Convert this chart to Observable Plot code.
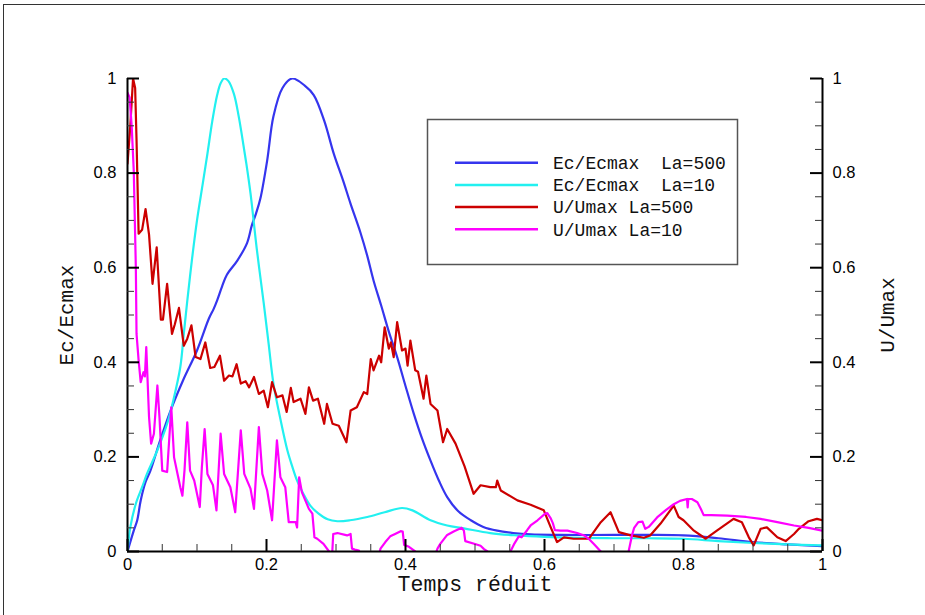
<!DOCTYPE html>
<html>
<head>
<meta charset="utf-8">
<script src="https://cdn.jsdelivr.net/npm/d3@7"></script>
<script src="https://cdn.jsdelivr.net/npm/@observablehq/plot@0.6"></script>
<style>
html, body { margin: 0; padding: 0; background: #fff; overflow: hidden; }
#wrap { position: relative; width: 925px; height: 615px; }
#border { position: absolute; left: 3px; top: 4px; width: 1000px; height: 1000px; border: 1px solid #333; }
#chart { position: absolute; left: 0; top: 0; }
#legend { position: absolute; left: 0; top: 0; pointer-events: none; }
</style>
</head>
<body>
<div id="wrap">
  <div id="border"></div>
  <div id="chart"></div>
  <svg id="legend" width="925" height="615"></svg>
</div>
<script>
// ---- data (x = Temps réduit, y = normalised value) ----
const ecLa500 = [[0,0],[0.009,0.044],[0.014,0.066],[0.019,0.108],[0.026,0.147],[0.033,0.171],[0.047,0.235],[0.062,0.298],[0.08,0.362],[0.1,0.425],[0.117,0.492],[0.124,0.513],[0.129,0.531],[0.136,0.56],[0.143,0.585],[0.158,0.615],[0.172,0.652],[0.179,0.69],[0.185,0.715],[0.191,0.745],[0.201,0.827],[0.21,0.92],[0.223,0.98],[0.237,1.0],[0.255,0.985],[0.268,0.965],[0.283,0.911],[0.297,0.84],[0.31,0.785],[0.321,0.735],[0.335,0.675],[0.345,0.625],[0.354,0.573],[0.365,0.52],[0.376,0.465],[0.388,0.411],[0.4,0.35],[0.412,0.291],[0.424,0.238],[0.436,0.192],[0.448,0.15],[0.46,0.115],[0.476,0.085],[0.494,0.066],[0.512,0.052],[0.532,0.044],[0.555,0.039],[0.58,0.036],[0.62,0.035],[0.7,0.035],[0.75,0.035],[0.8,0.034],[0.85,0.028],[0.9,0.02],[0.95,0.015],[1,0.011]];
const ecLa10 = [[0,0],[0.004,0.051],[0.012,0.101],[0.021,0.136],[0.028,0.164],[0.043,0.214],[0.057,0.27],[0.066,0.32],[0.076,0.39],[0.081,0.46],[0.086,0.53],[0.093,0.62],[0.1,0.7],[0.108,0.775],[0.115,0.841],[0.122,0.91],[0.129,0.965],[0.134,0.99],[0.139,1.0],[0.145,0.995],[0.153,0.968],[0.16,0.92],[0.165,0.876],[0.171,0.82],[0.177,0.757],[0.186,0.64],[0.196,0.525],[0.203,0.44],[0.21,0.355],[0.22,0.28],[0.23,0.214],[0.237,0.18],[0.244,0.15],[0.253,0.122],[0.263,0.097],[0.275,0.08],[0.288,0.068],[0.302,0.064],[0.32,0.066],[0.345,0.073],[0.37,0.083],[0.395,0.092],[0.41,0.087],[0.436,0.066],[0.46,0.055],[0.484,0.049],[0.522,0.039],[0.56,0.034],[0.6,0.031],[0.65,0.029],[0.7,0.028],[0.75,0.028],[0.8,0.027],[0.85,0.022],[0.9,0.018],[0.95,0.015],[1,0.013]];
const uLa500 = [[0,0.82],[0.004,0.9],[0.008,1.0],[0.011,0.98],[0.013,0.87],[0.016,0.672],[0.021,0.68],[0.026,0.724],[0.031,0.67],[0.036,0.566],[0.042,0.643],[0.048,0.49],[0.051,0.49],[0.057,0.566],[0.064,0.46],[0.068,0.48],[0.074,0.515],[0.081,0.435],[0.086,0.45],[0.092,0.478],[0.098,0.411],[0.105,0.407],[0.112,0.442],[0.119,0.388],[0.125,0.39],[0.133,0.414],[0.139,0.361],[0.146,0.372],[0.151,0.37],[0.157,0.396],[0.163,0.355],[0.17,0.36],[0.175,0.347],[0.182,0.369],[0.189,0.333],[0.196,0.34],[0.202,0.305],[0.208,0.358],[0.215,0.326],[0.223,0.33],[0.229,0.295],[0.235,0.346],[0.239,0.316],[0.249,0.323],[0.256,0.291],[0.261,0.347],[0.267,0.319],[0.274,0.323],[0.283,0.27],[0.287,0.312],[0.295,0.27],[0.304,0.266],[0.315,0.231],[0.321,0.298],[0.33,0.305],[0.34,0.337],[0.345,0.333],[0.35,0.407],[0.354,0.383],[0.362,0.414],[0.365,0.4],[0.37,0.474],[0.376,0.429],[0.379,0.442],[0.383,0.411],[0.388,0.485],[0.395,0.425],[0.4,0.429],[0.403,0.393],[0.407,0.446],[0.414,0.383],[0.418,0.38],[0.426,0.323],[0.43,0.372],[0.436,0.312],[0.446,0.298],[0.454,0.231],[0.46,0.259],[0.472,0.228],[0.485,0.18],[0.498,0.122],[0.508,0.14],[0.522,0.136],[0.53,0.136],[0.532,0.15],[0.537,0.129],[0.561,0.108],[0.58,0.099],[0.599,0.087],[0.609,0.051],[0.618,0.02],[0.628,0.03],[0.642,0.027],[0.652,0.027],[0.664,0.027],[0.681,0.062],[0.695,0.083],[0.707,0.041],[0.724,0.034],[0.743,0.029],[0.752,0.034],[0.767,0.059],[0.786,0.097],[0.793,0.073],[0.8,0.066],[0.815,0.044],[0.832,0.027],[0.848,0.044],[0.872,0.069],[0.884,0.062],[0.894,0.03],[0.901,0.013],[0.911,0.048],[0.92,0.051],[0.935,0.03],[0.947,0.022],[0.959,0.037],[0.966,0.048],[0.98,0.064],[0.992,0.069],[1,0.066]];
const uLa10 = [[0,0.97],[0.003,0.96],[0.006,0.9],[0.009,0.805],[0.012,0.6],[0.013,0.46],[0.016,0.404],[0.019,0.358],[0.023,0.379],[0.025,0.37],[0.027,0.432],[0.031,0.284],[0.034,0.228],[0.038,0.249],[0.043,0.351],[0.046,0.284],[0.05,0.171],[0.057,0.168],[0.063,0.305],[0.067,0.199],[0.072,0.164],[0.076,0.136],[0.079,0.118],[0.082,0.171],[0.086,0.273],[0.09,0.171],[0.096,0.15],[0.1,0.122],[0.104,0.094],[0.107,0.178],[0.111,0.259],[0.115,0.164],[0.123,0.14],[0.128,0.087],[0.134,0.249],[0.139,0.164],[0.148,0.136],[0.155,0.083],[0.163,0.256],[0.168,0.164],[0.177,0.133],[0.182,0.09],[0.189,0.263],[0.194,0.164],[0.201,0.129],[0.208,0.066],[0.215,0.235],[0.22,0.157],[0.227,0.136],[0.232,0.062],[0.242,0.062],[0.244,0.051],[0.247,0.157],[0.251,0.125],[0.261,0.09],[0.266,0.08],[0.269,0.03],[0.273,0.027],[0.282,0.016],[0.29,0.0],[0.292,-0.02],[0.294,-0.02],[0.296,0.037],[0.302,0.039],[0.316,0.034],[0.321,0.037],[0.323,0.006],[0.327,0.004],[0.333,0.002],[0.338,-0.02],[0.36,-0.02],[0.364,0.006],[0.371,0.02],[0.378,0.032],[0.385,0.037],[0.393,0.043],[0.396,0.042],[0.398,0.014],[0.405,0.01],[0.414,0.0],[0.42,-0.02],[0.44,-0.02],[0.446,0.006],[0.45,0.016],[0.46,0.035],[0.47,0.043],[0.481,0.05],[0.484,0.044],[0.486,0.022],[0.5,0.016],[0.508,0.012],[0.513,0.005],[0.518,0.0],[0.525,-0.02],[0.545,-0.02],[0.551,0.0],[0.556,0.015],[0.563,0.032],[0.567,0.03],[0.575,0.045],[0.58,0.055],[0.59,0.066],[0.601,0.08],[0.604,0.081],[0.609,0.07],[0.612,0.06],[0.615,0.045],[0.623,0.044],[0.633,0.044],[0.647,0.039],[0.657,0.034],[0.665,0.025],[0.671,0.016],[0.681,0.0],[0.69,-0.02],[0.715,-0.02],[0.721,0.0],[0.726,0.035],[0.729,0.05],[0.735,0.062],[0.741,0.063],[0.745,0.048],[0.75,0.052],[0.762,0.072],[0.775,0.088],[0.786,0.1],[0.795,0.107],[0.805,0.111],[0.806,0.093],[0.807,0.111],[0.812,0.111],[0.82,0.104],[0.825,0.09],[0.829,0.077],[0.84,0.077],[0.863,0.076],[0.89,0.073],[0.911,0.069],[0.935,0.062],[0.959,0.055],[0.98,0.05],[1,0.044]];

const seriesNames = ["Ec/Ecmax  La=500", "Ec/Ecmax  La=10", "U/Umax La=500", "U/Umax La=10"];
const seriesColors = ["#3535ee", "#22f0f0", "#cc0000", "#ff00ff"];
const majorTicks = [0, 0.2, 0.4, 0.6, 0.8, 1];
const minorTicks = [0.05, 0.1, 0.15, 0.25, 0.3, 0.35, 0.45, 0.5, 0.55, 0.65, 0.7, 0.75, 0.85, 0.9, 0.95];
const xTitle = "Temps réduit";
const yTitleLeft = "Ec/Ecmax";
const yTitleRight = "U/Umax";

const allSeries = [ecLa500, ecLa10, uLa500, uLa10];
const curves = ["catmull-rom", "catmull-rom", "linear", "linear"];
const mono = "'Liberation Mono', 'Courier New', monospace";

const fmt = d => String(d);
const W = 925, H = 615, ML = 127, MR = 103, MT = 78, MB = 64;
const PW = W - ML - MR, PH = H - MT - MB;
const MAJ = 12, MIN = 7;

const plot = Plot.plot({
  width: W,
  height: H,
  marginLeft: ML,
  marginRight: MR,
  marginTop: MT,
  marginBottom: MB,
  x: {domain: [0, 1]},
  y: {domain: [0, 1]},
  style: {fontFamily: "'Liberation Sans', Arial, sans-serif", fontSize: "16px", color: "#000", background: "transparent"},
  marks: [
    // series
    ...allSeries.map((s, i) => Plot.line(s, {x: d => d[0], y: d => d[1], stroke: seriesColors[i], strokeWidth: 2.2, curve: curves[i], clip: true})),
    // axis lines
    Plot.ruleX([0, 1], {stroke: "#000", strokeWidth: 2}),
    Plot.ruleY([0], {stroke: "#000", strokeWidth: 2}),
    // inward ticks: bottom
    Plot.ruleX(majorTicks, {x: d => d, insetTop: PH - MAJ, stroke: "#000", strokeWidth: 2}),
    Plot.ruleX(minorTicks, {x: d => d, insetTop: PH - MIN, stroke: "#333", strokeWidth: 1}),
    // inward ticks: left
    Plot.ruleY(majorTicks, {y: d => d, insetRight: PW - MAJ, stroke: "#000", strokeWidth: 2}),
    Plot.ruleY(minorTicks, {y: d => d, insetRight: PW - MIN, stroke: "#333", strokeWidth: 1}),
    // inward ticks: right
    Plot.ruleY(majorTicks, {y: d => d, insetLeft: PW - MAJ, stroke: "#000", strokeWidth: 2}),
    Plot.ruleY(minorTicks, {y: d => d, insetLeft: PW - MIN, stroke: "#333", strokeWidth: 1}),
    // tick labels
    Plot.axisX({ticks: majorTicks, tickSize: 0, tickPadding: 7, tickFormat: fmt, label: null, fontSize: 16.5}),
    Plot.axisY({anchor: "left", ticks: majorTicks, tickSize: 0, tickPadding: 11, tickFormat: fmt, label: null, fontSize: 16.5}),
    Plot.axisY({anchor: "right", ticks: majorTicks, tickSize: 0, tickPadding: 10, tickFormat: fmt, label: null, fontSize: 16.5}),
    // axis titles
    Plot.text([xTitle], {text: d => d, frameAnchor: "bottom", dy: 39, textAnchor: "middle", fontFamily: mono, fontSize: 21.5, fill: "#111"}),
    Plot.text([yTitleLeft], {text: d => d, frameAnchor: "left", dx: -61, rotate: -90, textAnchor: "middle", fontFamily: mono, fontSize: 21, fill: "#111"}),
    Plot.text([yTitleRight], {text: d => d, frameAnchor: "right", dx: 65, rotate: -90, textAnchor: "middle", fontFamily: mono, fontSize: 21, fill: "#111"})
  ]
});
document.getElementById("chart").appendChild(plot);

// legend
const lg = d3.select("#legend");
lg.append("rect").attr("x", 427.5).attr("y", 119.5).attr("width", 310).attr("height", 145)
  .attr("fill", "#fff").attr("stroke", "#555").attr("stroke-width", 1.5);
seriesNames.forEach((name, i) => {
  const cy = 162.7 + 22.2 * i;
  lg.append("line").attr("x1", 455).attr("x2", 538).attr("y1", cy).attr("y2", cy)
    .attr("stroke", seriesColors[i]).attr("stroke-width", 2.5);
  lg.append("text").attr("x", 553).attr("y", cy).attr("dy", "0.35em")
    .attr("font-family", mono).attr("font-size", 18).attr("fill", "#111")
    .attr("xml:space", "preserve").style("white-space", "pre").text(name);
});
</script>
</body>
</html>
